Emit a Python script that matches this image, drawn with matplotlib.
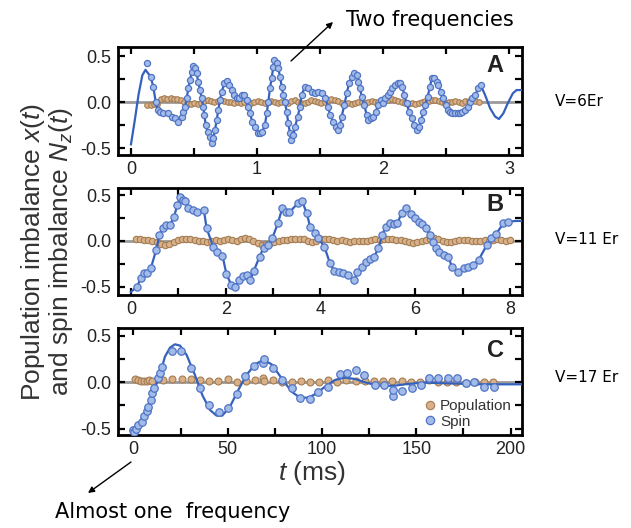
import numpy as np
import matplotlib
matplotlib.use("Agg")
from matplotlib import pyplot as plt
from matplotlib.lines import Line2D

plt.rcParams["font.family"] = "Liberation Sans"
plt.rcParams["axes.unicode_minus"] = False
plt.rcParams["mathtext.fontset"] = "custom"
plt.rcParams["mathtext.rm"] = "Liberation Sans"
plt.rcParams["mathtext.it"] = "Liberation Sans:italic"

# ---- panel A (V = 6 Er), t in ms ----
spin_a_t = [0.130, 0.156, 0.177, 0.196, 0.212, 0.230, 0.257, 0.296, 0.323, 0.349,
            0.376, 0.402, 0.415, 0.429, 0.442, 0.455, 0.468, 0.482, 0.495, 0.508,
            0.521, 0.534, 0.548, 0.561, 0.574, 0.582, 0.593, 0.608, 0.627, 0.640,
            0.653, 0.667, 0.680, 0.693, 0.706, 0.720, 0.741, 0.759, 0.778, 0.799,
            0.820, 0.839, 0.857, 0.878, 0.899, 0.918, 0.931, 0.944, 0.963, 0.984,
            1.005, 1.024, 1.042, 1.063, 1.077, 1.090, 1.103, 1.116, 1.130, 1.138,
            1.156, 1.169, 1.183, 1.196, 1.209, 1.222, 1.235, 1.249, 1.262, 1.270,
            1.288, 1.302, 1.323, 1.341, 1.354, 1.381, 1.407, 1.434, 1.460, 1.487,
            1.513, 1.540, 1.566, 1.579, 1.606, 1.624, 1.640, 1.659, 1.672, 1.693,
            1.712, 1.730, 1.751, 1.772, 1.791, 1.804, 1.817, 1.831, 1.852, 1.870,
            1.884, 1.905, 1.923, 1.942, 1.963, 1.984, 2.003, 2.016, 2.037, 2.056,
            2.074, 2.095, 2.116, 2.135, 2.153, 2.169, 2.188, 2.206, 2.228, 2.249,
            2.267, 2.286, 2.302, 2.320, 2.333, 2.354, 2.373, 2.386, 2.407, 2.426,
            2.439, 2.460, 2.479, 2.497, 2.513, 2.532, 2.550, 2.571, 2.593, 2.611,
            2.630, 2.651, 2.672, 2.690, 2.709, 2.730, 2.757, 2.775]
spin_a = [0.420, 0.275, 0.167, 0.004, -0.087, -0.105, -0.123, -0.123, -0.159, -0.178,
          -0.214, -0.159, -0.105, -0.051, 0.040, 0.149, 0.239, 0.330, 0.395, 0.366,
          0.312, 0.221, 0.130, 0.040, -0.051, -0.141, -0.250, -0.322, -0.377, -0.449,
          -0.395, -0.304, -0.196, -0.087, 0.022, 0.112, 0.203, 0.228, 0.185, 0.130,
          0.076, 0.040, 0.047, 0.076, 0.076, 0.022, -0.051, -0.123, -0.214, -0.268,
          -0.341, -0.341, -0.322, -0.250, -0.123, 0.004, 0.149, 0.257, 0.384, 0.456,
          0.420, 0.366, 0.275, 0.167, 0.076, 0.004, -0.105, -0.232, -0.341, -0.413,
          -0.359, -0.268, -0.159, -0.051, 0.076, 0.167, 0.149, 0.112, 0.094, 0.112,
          0.094, 0.040, -0.051, -0.141, -0.214, -0.268, -0.304, -0.250, -0.159, -0.033,
          0.094, 0.203, 0.275, 0.312, 0.293, 0.221, 0.149, 0.058, -0.033, -0.141,
          -0.196, -0.178, -0.159, -0.105, -0.033, 0.022, -0.014, 0.040, 0.076, 0.112,
          0.149, 0.185, 0.203, 0.203, 0.167, 0.076, -0.014, -0.105, -0.178, -0.250,
          -0.304, -0.268, -0.196, -0.105, -0.033, 0.058, 0.167, 0.257, 0.257, 0.221,
          0.185, 0.112, 0.040, -0.033, -0.087, -0.105, -0.123, -0.123, -0.123, -0.123,
          -0.105, -0.087, -0.051, 0.004, 0.040, 0.076, 0.149, 0.185]
fit_a_head_t = [0.0, 0.03, 0.06, 0.09, 0.115]
fit_a_head = [-0.46, -0.20, 0.08, 0.29, 0.35]
fit_a_tail_t = [2.81, 2.85, 2.89, 2.92, 2.955, 2.99, 3.03, 3.06, 3.11]
fit_a_tail = [0.076, -0.069, -0.159, -0.185, -0.123, -0.014, 0.094, 0.13, 0.13]
pop_a_t = np.linspace(0.13, 2.76, 100)
pop_a = [-0.03, -0.03, -0.025, -0.02,
         0.03, 0.04, 0.035, 0.04, 0.03, 0.035, 0.025,
         0.0, -0.02, -0.025, -0.015, -0.02, -0.01,
         0.01, 0.02, 0.015, 0.0, 0.01, 0.02, 0.01, -0.005,
         0.005, -0.01, 0.0, -0.01, 0.005, -0.005, -0.015, 0.0,
         0.01, 0.0, -0.01, 0.0, 0.015, 0.0, -0.01, 0.005,
         0.0, -0.01, 0.01, 0.02, 0.0, -0.01, -0.015, 0.0,
         0.02, 0.01, 0.0, -0.01, 0.0, 0.02, 0.03, 0.025,
         0.01, -0.01, -0.02, -0.015, -0.02, -0.01, 0.0, 0.005,
         -0.01, 0.0, 0.01, 0.005, -0.005, 0.01, 0.02, 0.025,
         0.03, 0.02, 0.01, 0.0, -0.01, -0.02, -0.015, -0.02,
         -0.01, 0.0, 0.01, 0.015, 0.02, 0.02, 0.015, 0.0,
         -0.01, 0.0, 0.005, 0.01, 0.0, -0.01, 0.01,
         0.015, 0.02, 0.01, 0.005]

# ---- panel B (V = 11 Er) ----
spin_b_t = [0.126, 0.210, 0.266, 0.336, 0.420, 0.532, 0.602, 0.672, 0.742, 0.826,
            0.910, 0.980, 1.036, 1.092, 1.141, 1.212, 1.303, 1.387, 1.541, 1.597,
            1.737, 1.821, 1.933, 2.017, 2.122, 2.192, 2.283, 2.367, 2.451, 2.521,
            2.591, 2.717, 2.801, 2.892, 2.983, 3.102, 3.193, 3.277, 3.347, 3.522,
            3.613, 3.712, 3.782, 3.887, 3.957, 4.083, 4.202, 4.293, 4.384, 4.468,
            4.573, 4.713, 4.783, 4.874, 4.958, 5.042, 5.133, 5.224, 5.308, 5.378,
            5.462, 5.553, 5.623, 5.714, 5.812, 5.903, 5.994, 6.078, 6.149, 6.233,
            6.324, 6.372, 6.443, 6.513, 6.604, 6.695, 6.779, 6.905, 7.024, 7.115,
            7.213, 7.339, 7.514, 7.605, 7.703, 7.864, 7.955]
spin_b = [-0.502, -0.410, -0.355, -0.355, -0.300, -0.099, 0.066, 0.139, 0.176, 0.176,
          0.267, 0.396, 0.487, 0.451, 0.440, 0.366, 0.341, 0.322, 0.341, 0.139,
          -0.062, -0.117, -0.161, -0.366, -0.484, -0.502, -0.429, -0.381, -0.374, -0.429,
          -0.330, -0.172, -0.073, -0.044, 0.029, 0.194, 0.359, 0.322, 0.315, 0.414,
          0.440, 0.304, 0.158, 0.084, 0.029, -0.062, -0.245, -0.330, -0.344, -0.355,
          -0.374, -0.429, -0.344, -0.282, -0.234, -0.198, -0.172, -0.081, 0.066, 0.158,
          0.194, 0.183, 0.194, 0.304, 0.359, 0.293, 0.249, 0.212, 0.183, 0.139,
          0.066, -0.007, -0.081, -0.117, -0.154, -0.172, -0.282, -0.344, -0.293, -0.282,
          -0.264, -0.209, -0.044, 0.037, 0.073, 0.194, 0.205]
fit_b_head_t = [0.0]
fit_b_head = [-0.56]
fit_b_tail_t = [8.1, 8.3]
fit_b_tail = [0.22, 0.22]
pop_b_t = np.linspace(0.1, 8.0, 90)
pop_b = [0.02, 0.02, 0.015, 0.01, 0.0, -0.01, -0.03, -0.04, -0.03, -0.01,
         0.01, 0.02, 0.025, 0.02, 0.01, 0.0, 0.0, -0.01, 0.0, 0.01,
         0.0, 0.01, 0.02, 0.01, 0.0, 0.02, 0.035, 0.02, 0.0, -0.02,
         -0.04, -0.03, -0.02, -0.01, 0.0, 0.01, 0.01, 0.02, 0.02, 0.025,
         0.02, 0.0, -0.01, 0.0, 0.02, 0.025, 0.02, 0.01, 0.0, 0.01,
         0.0, -0.01, 0.0, 0.005, 0.0, 0.0, 0.01, 0.02, 0.01, 0.02,
         0.025, 0.02, 0.01, 0.015, 0.0, -0.01, -0.02, -0.01, 0.0, 0.01,
         0.02, 0.03, 0.02, 0.0, -0.01, -0.01, 0.0, 0.01, 0.015, 0.01,
         0.0, 0.0, 0.005, 0.01, 0.0, 0.01, 0.02, 0.01, 0.0, 0.01]

# ---- panel C (V = 17 Er) ----
spin_c_t = [0.0, 0.4, 1.15, 2.56, 4.33, 5.75, 6.98, 7.87, 9.11, 9.99,
            11.05, 12.82, 14.06, 14.94, 20.4, 25.3, 30.4, 35.3, 40.2, 45.2,
            49.9, 54.7, 59.2, 64.2, 68.5, 69.2, 74.0, 78.6, 83.9, 88.3,
            93.6, 98.0, 103.4, 109.8, 113.1, 118.0, 122.4, 128.1, 133.1, 137.6,
            137.8, 142.4, 147.6, 152.3, 157.0, 161.7, 166.7, 171.4, 176.2, 180.9,
            185.7, 191.0]
spin_c = [-0.52, -0.54, -0.50, -0.46, -0.425, -0.36, -0.31, -0.263, -0.191, -0.119,
          -0.065, 0.05, 0.097, 0.169, 0.34, 0.34, 0.155, -0.06, -0.25, -0.32,
          -0.28, -0.13, 0.065, 0.18, 0.21, 0.25, 0.15, 0.025, -0.065, -0.175,
          -0.18, -0.10, -0.047, 0.086, 0.097, 0.133, 0.079, -0.029, -0.029, -0.144,
          -0.083, -0.094, -0.058, -0.029, 0.043, 0.043, 0.043, 0.043, -0.011, 0.0,
          -0.047, -0.047]
fit_c_t = [0, 2, 4, 6, 8, 10, 12, 14, 16.7, 19.4, 22.0, 24.7, 28.2, 32.6, 36.5,
           40.6, 44.1, 47.1, 51.2, 55.6, 60.0, 64.5, 68.9, 73.3, 78.6, 83.9, 88.3,
           92.8, 97.2, 101.6, 106.9, 112.2, 117.5, 122.8, 128.1, 133.4, 138.7,
           144.0, 149.3, 154.6, 159.9, 170.6, 184.7, 207]
fit_c = [-0.52, -0.47, -0.41, -0.33, -0.24, -0.14, -0.03, 0.08, 0.277, 0.374, 0.41,
         0.396, 0.295, 0.079, -0.137, -0.299, -0.36, -0.36, -0.263, -0.083, 0.079,
         0.194, 0.241, 0.194, 0.043, -0.101, -0.166, -0.166, -0.119, -0.047, 0.025,
         0.05, 0.036, 0.0, -0.029, -0.04, -0.036, -0.022, -0.011, -0.004, -0.007,
         -0.014, -0.022, -0.022]
pop_c_t = [1.0, 2.5, 4.0, 5.5, 7.0, 8.5, 10.0,
           15.8, 20.6, 25.5, 30.4, 35.3, 40.2, 45.1, 50.0, 54.8, 59.6,
           64.5, 68.9, 69.4, 74.2, 79.0, 83.9, 88.7, 93.6, 98.4, 103.3,
           108.1, 113.0, 117.9, 122.7, 127.6, 132.4, 137.3, 142.2, 147.0, 151.9,
           156.7, 161.6, 166.5, 171.3, 176.2, 181.0, 185.9, 190.8]
pop_c = [0.04, 0.025, 0.015, 0.015, 0.015, 0.02, 0.015,
         0.025, 0.04, 0.035, 0.035, 0.025, 0.015, 0.015, 0.035, 0.005, 0.015,
         0.02, 0.045, 0.015, 0.02, 0.005, 0.005, 0.01, 0.005, 0.0, 0.025,
         0.005, 0.02, 0.01, 0.015, 0.015, 0.01, 0.01, 0.01, 0.005, 0.005,
         0.02, 0.0, 0.0, 0.0, -0.005, 0.0, 0.0, 0.005]

panel_labels = ["A", "B", "C"]
potentials = ["V=6Er", "V=11 Er", "V=17 Er"]

# colours
spin_face = "#a3bbe8"
spin_edge = "#4f74c6"
spin_line = "#3461bd"
pop_face = "#d8b189"
pop_edge = "#a37c54"

W, H = 631, 528
fig = plt.figure(figsize=(W / 100, H / 100), dpi=100)

# axes boxes in pixels: (top, bottom)
boxes = [(47, 155), (188, 295), (328, 435)]
left_px, right_px = 118, 522
axs = []
for top, bot in boxes:
    ax = fig.add_axes([left_px / W, 1 - bot / H, (right_px - left_px) / W, (bot - top) / H])
    axs.append(ax)

panels = [
    (spin_a_t, spin_a, fit_a_head_t + spin_a_t[1:] + fit_a_tail_t,
     fit_a_head + spin_a[1:] + fit_a_tail, pop_a_t, pop_a, 4.4, 4.0),
    (spin_b_t, spin_b, fit_b_head_t + spin_b_t + fit_b_tail_t,
     fit_b_head + spin_b + fit_b_tail, pop_b_t, pop_b, 5.2, 4.6),
    (spin_c_t, spin_c, fit_c_t, fit_c, pop_c_t, pop_c, 5.4, 5.0),
]
xlims = [(-0.103, 3.103), (-0.273, 8.256), (-8.2, 206.1)]
ylims = [(-0.576, 0.598), (-0.593, 0.582), (-0.569, 0.586)]
major_x = [1, 2, 50]
minor_x = [0.5, 1, 25]
letter_y = [0.83, 0.85, 0.79]

for i, ax in enumerate(axs):
    st, sv, lt, lv, pt, pv, ms_s, ms_p = panels[i]
    ax.axhline(0, color="#9a9a9a", lw=2.0, zorder=1)
    ax.plot(pt, pv, "o", ms=ms_p, mfc=pop_face, mec=pop_edge, mew=0.8, zorder=2,
            label="Population")
    ax.plot(lt, lv, "-", color=spin_line, lw=1.6, zorder=3)
    ax.plot(st, sv, "o", ms=ms_s, mfc=spin_face, mec=spin_edge, mew=0.9, zorder=4,
            label="Spin")
    ax.set_xlim(*xlims[i])
    ax.set_ylim(*ylims[i])
    ax.xaxis.set_major_locator(plt.MultipleLocator(major_x[i]))
    ax.xaxis.set_minor_locator(plt.MultipleLocator(minor_x[i]))
    ax.yaxis.set_major_locator(plt.FixedLocator([-0.5, 0.0, 0.5]))
    ax.yaxis.set_minor_locator(plt.FixedLocator([-0.25, 0.25]))
    ax.yaxis.set_major_formatter(plt.FormatStrFormatter("%.1f"))
    ax.tick_params(which="both", direction="in", top=True, right=True,
                   length=5, width=1.6, labelsize=13, labelcolor="#222222")
    ax.tick_params(axis="y", pad=5)
    ax.tick_params(axis="x", pad=4)
    for s in ax.spines.values():
        s.set_linewidth(2.0)
    ax.text(0.955, letter_y[i], panel_labels[i], transform=ax.transAxes,
            ha="right", va="center", fontsize=17, fontweight="bold", color="#222222")
    fig.text(555 / W, 1 - [102, 240, 378][i] / H, potentials[i],
             fontsize=11, family="DejaVu Sans", ha="left", va="center")

# legend in panel C
handles = [
    Line2D([], [], ls="none", marker="o", ms=6, mfc=pop_face, mec=pop_edge, mew=0.8),
    Line2D([], [], ls="none", marker="o", ms=6, mfc=spin_face, mec=spin_edge, mew=0.9),
]
axs[2].legend(handles, ["Population", "Spin"], loc="lower right",
              bbox_to_anchor=(0.975, 0.06), frameon=False, fontsize=11,
              handlelength=0.7, handletextpad=0.3, labelspacing=0.1,
              borderpad=0, borderaxespad=0, labelcolor="#333333")

# axis labels
fig.text(47 / W, 1 - 252 / H,
         "Population imbalance $x(t)$\nand spin imbalance $N_z(t)$",
         rotation=90, ha="center", va="center", multialignment="center",
         fontsize=19, color="#333333", linespacing=1.0)
fig.text(312 / W, 1 - 473 / H, "$t$ (ms)", ha="center", va="center", fontsize=19,
         color="#333333")

# annotations
fig.text(430 / W, 1 - 20 / H, "Two frequencies", ha="center", va="center",
         fontsize=15, family="DejaVu Sans")
fig.add_artist(plt.Annotation("", xy=(333 / W, 1 - 22 / H), xytext=(291 / W, 1 - 61 / H),
                              xycoords="figure fraction", textcoords="figure fraction",
                              arrowprops=dict(arrowstyle="-|>", color="black", lw=1.0,
                                              mutation_scale=9, shrinkA=0, shrinkB=0)))
fig.text(173 / W, 1 - 512 / H, "Almost one  frequency", ha="center", va="center",
         fontsize=15, family="DejaVu Sans")
fig.add_artist(plt.Annotation("", xy=(88 / W, 1 - 493 / H), xytext=(131 / W, 1 - 462 / H),
                              xycoords="figure fraction", textcoords="figure fraction",
                              arrowprops=dict(arrowstyle="-|>", color="black", lw=1.0,
                                              mutation_scale=9, shrinkA=0, shrinkB=0)))

fig.savefig("out.png", dpi=100)
